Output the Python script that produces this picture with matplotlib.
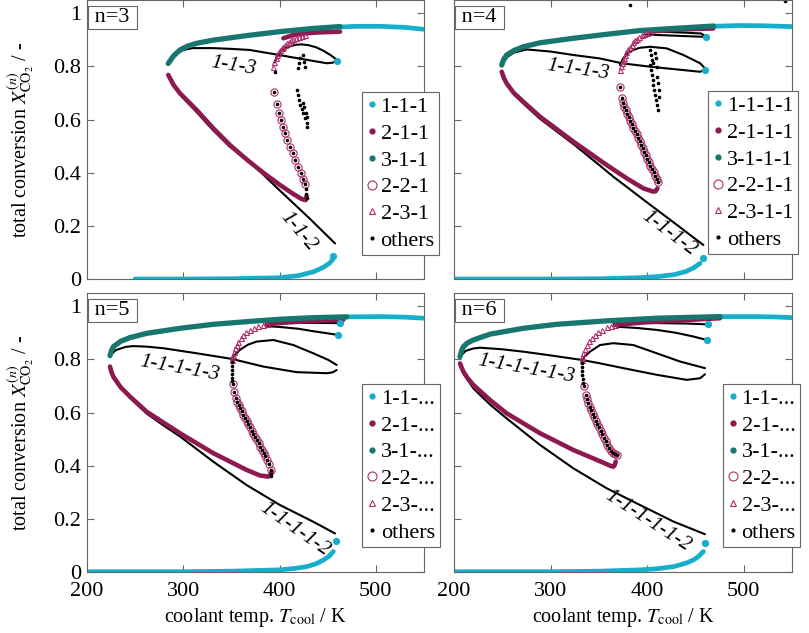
"""Bifurcation branches of total CO2 conversion vs coolant temperature, n = 3..6 reactors."""
import matplotlib; matplotlib.use("Agg")
import matplotlib.pyplot as plt
from matplotlib.lines import Line2D

plt.rcParams["font.family"] = ["Liberation Serif", "DejaVu Serif"]
plt.rcParams["mathtext.fontset"] = "stix"
plt.rcParams["font.size"] = 16

CYAN, MAROON, TEAL, PINK = "#17aecb", "#8c1a50", "#17776f", "#b02d6c"

# ---------------- n = 3 ----------------  (T in K, X in -)
N3_CY_LO = ([250, 300, 350, 400, 420, 435, 445, 452, 455],
            [0.0, 0.0, 0.001, 0.005, 0.013, 0.027, 0.043, 0.06, 0.072])
N3_CY_UP = ([460, 480, 505, 530, 549], [0.948, 0.951, 0.951, 0.947, 0.94])
N3_CY_PTS = ([456, 460], [0.087, 0.822])
N3_TEAL = ([284.4, 290, 296.5, 305, 313.9, 331.2, 365.8, 400.4, 435, 462.8],
           [0.811, 0.84, 0.862, 0.877, 0.887, 0.899, 0.916, 0.931, 0.943, 0.95])
N3_MAR_LO = ([284.4, 290, 296.6, 313.9, 331.2, 348.5, 365.8, 383.1, 400.4, 414.3, 423, 427.1, 428.1],
             [0.768, 0.73, 0.699, 0.636, 0.567, 0.504, 0.45, 0.4, 0.354, 0.32, 0.301, 0.297, 0.312])
N3_MAR_UP = ([404, 414, 425, 440, 462.8], [0.906, 0.918, 0.924, 0.928, 0.931])
N3_TRI = ([393.5, 394.5, 395.8, 397, 398.8, 400.6, 402.2, 404, 405.8, 407.4, 409.5, 411.8, 414.3, 417, 420, 423, 426],
          [0.799, 0.815, 0.83, 0.843, 0.852, 0.861, 0.868, 0.875, 0.881, 0.887, 0.893, 0.898, 0.903, 0.907, 0.911, 0.915, 0.918])
N3_CIRC = ([394.2, 397.7, 399.8, 401.5, 403.2, 405.6, 408, 410.8, 413.6, 416, 418.8, 421.9, 424.7, 426.4],
           [0.705, 0.659, 0.624, 0.598, 0.573, 0.548, 0.523, 0.498, 0.473, 0.448, 0.423, 0.398, 0.375, 0.358])
N3_B_3 = ([284.4, 290, 300, 310, 330, 350, 369, 395, 420, 449, 455, 460],
          [0.81, 0.84, 0.862, 0.869, 0.869, 0.866, 0.862, 0.846, 0.83, 0.812, 0.814, 0.822])
N3_B_LOOP = ([395, 397, 400, 405, 412, 418, 423, 430, 438, 445, 452, 457, 460],
             [0.815, 0.837, 0.853, 0.867, 0.877, 0.882, 0.883, 0.88, 0.872, 0.86, 0.845, 0.832, 0.822])
N3_B_2 = ([284.4, 296.6, 313.9, 331.2, 348.5, 369.3, 400, 430, 457.6],
          [0.766, 0.694, 0.628, 0.559, 0.497, 0.441, 0.334, 0.232, 0.134])
N3_THIN = ([], [])
N3_THIN2 = ([], [])
N3_OTH = ([395.3, 421.2, 420.5, 419.5, 424.7, 425.4, 426.4, 417.8, 418.8, 420.2, 421.2, 423, 424.7, 426.4,
           428.2, 428.8, 424.7, 425.7, 427.5, 428.8, 427, 427.5, 428],
          [0.78, 0.83, 0.812, 0.795, 0.843, 0.818, 0.799, 0.711, 0.693, 0.674, 0.655, 0.639, 0.624, 0.605,
           0.586, 0.573, 0.664, 0.646, 0.626, 0.608, 0.34, 0.32, 0.305])

# ---------------- n = 4 ----------------
N4_CY_LO = ([201, 250, 300, 350, 392.6, 410, 427.1, 440, 448, 454.8],
            [0.0, 0.0, 0.0, 0.001, 0.005, 0.009, 0.016, 0.028, 0.042, 0.059])
N4_CY_UP = ([466, 496.2, 520, 549.7], [0.951, 0.954, 0.953, 0.95])
N4_CY_PTS = ([458.2, 461, 459.9], [0.08, 0.912, 0.787])
N4_TEAL = ([249.4, 251.5, 254.5, 262, 271.8, 289, 323.6, 358.1, 392.6, 427.1, 468.6],
           [0.805, 0.827, 0.843, 0.86, 0.874, 0.889, 0.906, 0.921, 0.935, 0.943, 0.952])
N4_MAR_LO = ([249.4, 251.5, 254.5, 262, 271.8, 289, 323.6, 358.1, 378.8, 396.1, 406.4, 409, 410.6],
             [0.78, 0.758, 0.736, 0.7, 0.667, 0.611, 0.517, 0.429, 0.379, 0.341, 0.329, 0.331, 0.341])
N4_MAR_UP = ([403, 420, 440, 468.5], [0.931, 0.936, 0.94, 0.943])
N4_TRI = ([371.9, 372.6, 373.6, 374.6, 375.8, 377.1, 378.6, 380.3, 382.3, 384, 385.7, 387.4, 389.3, 391.5, 394.4, 397, 400, 403],
          [0.787, 0.8, 0.812, 0.823, 0.833, 0.843, 0.853, 0.864, 0.874, 0.882, 0.891, 0.899, 0.905, 0.911, 0.918, 0.923, 0.927, 0.931])
N4_CIRC = ([371.9, 373.6, 374.7, 376.2, 377.8, 379.4, 381, 382.6, 384.2, 385.8, 387.4, 389, 390.6, 392.2,
            393.8, 395.4, 397, 398.6, 400.2, 401.8, 403.4, 405, 406.7, 408.4, 410, 411.6],
           [0.721, 0.68, 0.661, 0.648, 0.635, 0.622, 0.609, 0.596, 0.583, 0.57, 0.557, 0.544, 0.531, 0.518,
            0.505, 0.492, 0.479, 0.466, 0.453, 0.44, 0.427, 0.414, 0.401, 0.388, 0.376, 0.366])
N4_B_3 = ([249.4, 255, 262, 275.3, 300, 323.6, 351.2, 373.6, 403, 430, 454.8, 459.9],
          [0.805, 0.835, 0.852, 0.864, 0.856, 0.843, 0.83, 0.812, 0.799, 0.789, 0.78, 0.787])
N4_B_LOOP = ([371.9, 375, 380, 385.7, 392, 403, 420.2, 437.5, 454.8, 459.9],
             [0.805, 0.83, 0.85, 0.862, 0.87, 0.874, 0.868, 0.843, 0.812, 0.793])
N4_B_2 = ([249.4, 254.5, 262, 271.8, 289, 323.6, 350, 365, 400, 430, 458.2],
          [0.78, 0.733, 0.695, 0.66, 0.603, 0.508, 0.43, 0.385, 0.288, 0.206, 0.128])
N4_THIN = ([403, 420, 440, 456, 461], [0.931, 0.93, 0.927, 0.924, 0.912])
N4_THIN2 = ([398, 420, 440, 455, 461], [0.92, 0.917, 0.914, 0.912, 0.912])
N4_OTH = ([403, 403.7, 404.7, 403, 403.7, 404.7, 405.7, 406.4, 407.5, 408.2, 409.2, 409.9, 410.9,
           408.2, 409.2, 409.9, 410.6, 411.6, 412, 412.6, 406.4, 382.3, 542.8],
          [0.862, 0.843, 0.824, 0.805, 0.787, 0.768, 0.749, 0.73, 0.711, 0.692, 0.674, 0.655, 0.636,
           0.849, 0.83, 0.799, 0.761, 0.736, 0.711, 0.686, 0.812, 1.031, 1.046])

# ---------------- n = 5 ----------------
N5_CY_LO = ([201.4, 250, 300, 350, 400.4, 415, 428.1, 438, 445.5, 451, 455.8],
            [0.001, 0.001, 0.001, 0.003, 0.008, 0.013, 0.02, 0.031, 0.045, 0.058, 0.077])
N5_CY_UP = ([469.7, 504.3, 530, 549.3], [0.96, 0.961, 0.959, 0.955])
N5_CY_PTS = ([458.6, 462.8, 461], [0.117, 0.936, 0.892])
N5_TEAL = ([223.9, 225.5, 227.4, 235, 244.7, 262, 296.6, 331.2, 365.8, 400.4, 435, 469.7],
           [0.814, 0.833, 0.848, 0.868, 0.882, 0.898, 0.917, 0.932, 0.942, 0.951, 0.957, 0.96])
N5_MAR_LO = ([223.9, 225.5, 227.4, 235, 244.7, 262, 296.6, 331.2, 365.8, 379.7, 388.3, 390.5, 391.8],
             [0.773, 0.752, 0.735, 0.695, 0.66, 0.603, 0.522, 0.447, 0.384, 0.363, 0.359, 0.365, 0.378])
N5_MAR_UP = ([386.6, 410, 440, 466.2], [0.932, 0.94, 0.945, 0.949])
N5_TRI = ([350.2, 350.9, 351.7, 352.7, 353.9, 355.5, 357.2, 359.6, 362.4, 365.6, 369.3, 373.5, 378, 382.3, 386.6],
          [0.798, 0.808, 0.818, 0.829, 0.842, 0.855, 0.867, 0.88, 0.892, 0.902, 0.911, 0.919, 0.926, 0.93, 0.933])
N5_CIRC = ([351.3, 352.7, 354.4, 356, 357.6, 359.2, 360.8, 362.5, 364.2, 365.9, 367.6, 369.3, 371, 372.8,
            374.6, 376.4, 378.2, 380, 381.8, 383.6, 385.4, 387.2, 389, 390.8],
           [0.706, 0.676, 0.654, 0.641, 0.628, 0.616, 0.604, 0.592, 0.58, 0.568, 0.556, 0.544, 0.532, 0.52,
            0.508, 0.496, 0.484, 0.472, 0.46, 0.448, 0.436, 0.422, 0.405, 0.384])
N5_B_3 = ([223.9, 230, 240, 248.1, 262, 279.3, 313.9, 350.2, 383.1, 417.7, 448.9, 455, 459.3],
          [0.814, 0.835, 0.847, 0.85, 0.848, 0.842, 0.823, 0.802, 0.773, 0.752, 0.748, 0.751, 0.76])
N5_B_LOOP = ([350.2, 353, 358.9, 367, 376.2, 393.5, 414.3, 435, 450.6, 459.3],
             [0.80, 0.815, 0.836, 0.855, 0.867, 0.873, 0.854, 0.823, 0.798, 0.779])
N5_B_2 = ([223.9, 227.4, 244.7, 262, 280, 296.6, 331.2, 365.8, 400.4, 435, 457.6],
          [0.772, 0.73, 0.655, 0.596, 0.55, 0.51, 0.415, 0.327, 0.252, 0.189, 0.145])
N5_THIN = ([386.6, 420, 450, 462.8], [0.935, 0.937, 0.937, 0.936])
N5_THIN2 = ([386.6, 400.4, 420, 435, 450, 461], [0.925, 0.922, 0.915, 0.906, 0.898, 0.892])
N5_OTH = ([350.2, 350.4, 350.6, 350.8, 351, 351.1, 391, 391.3],
          [0.79, 0.775, 0.76, 0.745, 0.73, 0.718, 0.37, 0.36])

# ---------------- n = 6 ----------------
N6_CY_LO = ([201, 250, 300, 350, 392.6, 410, 427.1, 440, 447.9, 453, 458.2],
            [0.001, 0.001, 0.001, 0.003, 0.008, 0.012, 0.02, 0.033, 0.045, 0.058, 0.077])
N6_CY_UP = ([475.5, 513.4, 530, 549.7], [0.961, 0.961, 0.96, 0.957])
N6_CY_PTS = ([459.9, 463.4, 461.7], [0.11, 0.932, 0.873])
N6_TEAL = ([206.2, 207.8, 209.7, 214, 220, 237.3, 271.8, 306.3, 358.1, 409.9, 475.5],
           [0.81, 0.832, 0.848, 0.862, 0.873, 0.895, 0.917, 0.932, 0.945, 0.955, 0.961])
N6_MAR_LO = ([206.2, 207.8, 209.7, 214, 220, 237.3, 254.5, 289.1, 323.6, 347.7, 361.6, 365, 366.5, 367.4],
             [0.785, 0.77, 0.754, 0.73, 0.704, 0.647, 0.597, 0.522, 0.459, 0.422, 0.4, 0.396, 0.403, 0.415])
N6_MAR_UP = ([366.7, 400, 440, 475.5], [0.93, 0.94, 0.948, 0.955])
N6_TRI = ([332.2, 332.9, 333.9, 335.5, 337.4, 339.8, 342.6, 345.8, 349.5, 353.6, 358.1, 362.3, 366.7],
          [0.798, 0.81, 0.823, 0.84, 0.854, 0.868, 0.88, 0.891, 0.902, 0.912, 0.92, 0.926, 0.93])
N6_CIRC = ([334.6, 336.4, 337.8, 339.1, 340.5, 342, 343.6, 345.2, 346.8, 348.4, 350.1, 351.8, 353.5, 355.2,
            357, 358.8, 360.6, 362.5, 364.4, 366.4, 368.5],
           [0.698, 0.666, 0.65, 0.635, 0.622, 0.609, 0.596, 0.583, 0.57, 0.557, 0.544, 0.531, 0.518, 0.505,
            0.492, 0.479, 0.467, 0.457, 0.449, 0.443, 0.44])
N6_B_3 = ([206.2, 212, 220, 226.9, 250, 271.8, 300, 332.2, 350, 375.4, 409.9, 441, 454.8, 459.9],
          [0.81, 0.832, 0.841, 0.844, 0.838, 0.829, 0.815, 0.798, 0.786, 0.767, 0.742, 0.723, 0.729, 0.744])
N6_B_LOOP = ([332.2, 335, 340.8, 351.2, 365, 385.7, 409.9, 434, 459.9],
             [0.792, 0.81, 0.829, 0.854, 0.861, 0.854, 0.823, 0.792, 0.767])
N6_B_2 = ([206.2, 210, 220, 237.3, 254.5, 289.1, 323.6, 358.1, 392.6, 427.1, 459.9],
          [0.785, 0.745, 0.691, 0.63, 0.578, 0.478, 0.39, 0.315, 0.252, 0.19, 0.142])
N6_THIN = ([365, 400, 440, 461.7], [0.936, 0.937, 0.935, 0.932])
N6_THIN2 = ([368.5, 390, 409.9, 430, 447.9, 461.7], [0.923, 0.918, 0.911, 0.9, 0.886, 0.873])
N6_OTH = ([332.4, 332.6, 332.8, 333, 333.2, 333.5], [0.785, 0.77, 0.755, 0.74, 0.725, 0.71])

LEG3 = ["1-1-1", "2-1-1", "3-1-1", "2-2-1", "2-3-1", "others"]
LEG4 = ["1-1-1-1", "2-1-1-1", "3-1-1-1", "2-2-1-1", "2-3-1-1", "others"]
LEGN = ["1-1-...", "2-1-...", "3-1-...", "2-2-...", "2-3-...", "others"]

PANELS = [
    dict(n=3, cy_lo=N3_CY_LO, cy_up=N3_CY_UP, cy_pts=N3_CY_PTS, teal=N3_TEAL, mar_lo=N3_MAR_LO,
         mar_up=N3_MAR_UP, tri=N3_TRI, circ=N3_CIRC, b3=N3_B_3, bloop=N3_B_LOOP, b2=N3_B_2,
         thin=N3_THIN, thin2=N3_THIN2, oth=N3_OTH, leg=LEG3,
         lab3=("1-1-3", 351.6, 0.80, -9), lab2=("1-1-2", 419.5, 0.178, -50),
         pos=[0.1075, 0.5592, 0.4166, 0.4408], anchor=(1.045, 0.67)),
    dict(n=4, cy_lo=N4_CY_LO, cy_up=N4_CY_UP, cy_pts=N4_CY_PTS, teal=N4_TEAL, mar_lo=N4_MAR_LO,
         mar_up=N4_MAR_UP, tri=N4_TRI, circ=N4_CIRC, b3=N4_B_3, bloop=N4_B_LOOP, b2=N4_B_2,
         thin=N4_THIN, thin2=N4_THIN2, oth=N4_OTH, leg=LEG4,
         lab3=("1-1-1-3", 328.7, 0.787, -8), lab2=("1-1-1-2", 422.5, 0.172, -37),
         pos=[0.5612, 0.5592, 0.4178, 0.4408], anchor=(1.018, 0.674)),
    dict(n=5, cy_lo=N5_CY_LO, cy_up=N5_CY_UP, cy_pts=N5_CY_PTS, teal=N5_TEAL, mar_lo=N5_MAR_LO,
         mar_up=N5_MAR_UP, tri=N5_TRI, circ=N5_CIRC, b3=N5_B_3, bloop=N5_B_LOOP, b2=N5_B_2,
         thin=N5_THIN, thin2=N5_THIN2, oth=N5_OTH, leg=LEGN,
         lab3=("1-1-1-1-3", 295.9, 0.764, -10), lab2=("1-1-1-1-2", 416, 0.162, -35),
         pos=[0.1075, 0.0964, 0.4166, 0.4408], anchor=(1.047, 0.674)),
    dict(n=6, cy_lo=N6_CY_LO, cy_up=N6_CY_UP, cy_pts=N6_CY_PTS, teal=N6_TEAL, mar_lo=N6_MAR_LO,
         mar_up=N6_MAR_UP, tri=N6_TRI, circ=N6_CIRC, b3=N6_B_3, bloop=N6_B_LOOP, b2=N6_B_2,
         thin=N6_THIN, thin2=N6_THIN2, oth=N6_OTH, leg=LEGN,
         lab3=("1-1-1-1-1-3", 275.3, 0.764, -10), lab2=("1-1-1-1-1-2", 400.2, 0.193, -33),
         pos=[0.5612, 0.0964, 0.4178, 0.4408], anchor=(1.024, 0.674)),
]

fig = plt.figure(figsize=(8.09, 6.33), dpi=100)
GREY = "#666666"

for i, p in enumerate(PANELS):
    ax = fig.add_axes(p["pos"])
    thick = dict(solid_capstyle="round", solid_joinstyle="round")
    ax.plot(*p["cy_lo"], color=CYAN, lw=3.4, **thick)
    ax.plot(*p["cy_up"], color=CYAN, lw=3.4, **thick)
    for k in ("b3", "bloop", "b2", "thin", "thin2"):
        ax.plot(*p[k], color="black", lw=1.5, solid_capstyle="round")
    ax.plot(*p["mar_lo"], color=MAROON, lw=3.3, **thick)
    ax.plot(*p["mar_up"], color=MAROON, lw=3.3, **thick)
    ax.plot(*p["teal"], color=TEAL, lw=3.8, **thick)
    ax.plot(*p["cy_pts"], ls="", marker="o", ms=4.2, color=CYAN)
    ax.plot(*p["tri"], ls="", marker="^", ms=3.6, mfc="none", mec=PINK, mew=0.8)
    ax.plot(*p["circ"], ls="", marker="o", ms=5.2, mfc="none", mec=PINK, mew=0.8)
    ax.plot(*p["circ"], ls="", marker="o", ms=1.6, color="black")
    ax.plot(*p["oth"], ls="", marker="o", ms=1.6, color="black")

    t, x, r = p["lab3"][1], p["lab3"][2], p["lab3"][3]
    ax.text(t, x, p["lab3"][0], rotation=r, ha="center", va="center", style="italic", fontsize=15)
    t, x, r = p["lab2"][1], p["lab2"][2], p["lab2"][3]
    ax.text(t, x, p["lab2"][0], rotation=r, ha="center", va="center", style="italic", fontsize=15)

    ax.text(0.007, 0.972, f" n={p['n']} ", transform=ax.transAxes, ha="left", va="top", fontsize=16,
            bbox=dict(boxstyle="square,pad=0.08", fc="white", ec=GREY, lw=0.8))

    ax.set_xlim(200, 550); ax.set_ylim(0, 1.05)
    ax.set_xticks([200, 300, 400, 500]); ax.set_yticks([0, 0.2, 0.4, 0.6, 0.8, 1.0])
    ax.set_yticklabels(["0", "0.2", "0.4", "0.6", "0.8", "1"])
    ax.tick_params(direction="in", top=True, right=True, length=5, width=0.8, color=GREY, labelsize=16)
    ax.tick_params(axis="x", pad=7)
    ax.tick_params(axis="y", pad=4)
    for s in ax.spines.values():
        s.set_color(GREY); s.set_linewidth(0.8)
    if i % 2 == 1:
        ax.tick_params(labelleft=False)
    else:
        ax.set_ylabel(r"total conversion $X^{(n)}_{\mathrm{CO}_2}$ / -", fontsize=14.5, labelpad=12)
    if i < 2:
        ax.tick_params(labelbottom=False)
    else:
        ax.set_xlabel(r"coolant temp. $T_{\mathrm{cool}}$ / K", fontsize=14.5, labelpad=4)

    handles = [
        Line2D([], [], ls="", marker="o", ms=3.5, color=CYAN),
        Line2D([], [], ls="", marker="o", ms=3.5, color=MAROON),
        Line2D([], [], ls="", marker="o", ms=3.5, color=TEAL),
        Line2D([], [], ls="", marker="o", ms=6.5, mfc="none", mec=PINK, mew=0.8),
        Line2D([], [], ls="", marker="^", ms=4.5, mfc="none", mec=PINK, mew=0.8),
        Line2D([], [], ls="", marker="o", ms=2, color="black"),
    ]
    leg = ax.legend(handles, p["leg"], loc="upper right", bbox_to_anchor=p["anchor"], borderaxespad=0,
                    fontsize=16, handlelength=0.5, handletextpad=0.15, labelspacing=0.28, borderpad=0.2,
                    fancybox=False, framealpha=1, edgecolor=GREY)
    leg.get_frame().set_linewidth(0.8)
    leg.set_zorder(5)

fig.savefig("out.png", dpi=100)
